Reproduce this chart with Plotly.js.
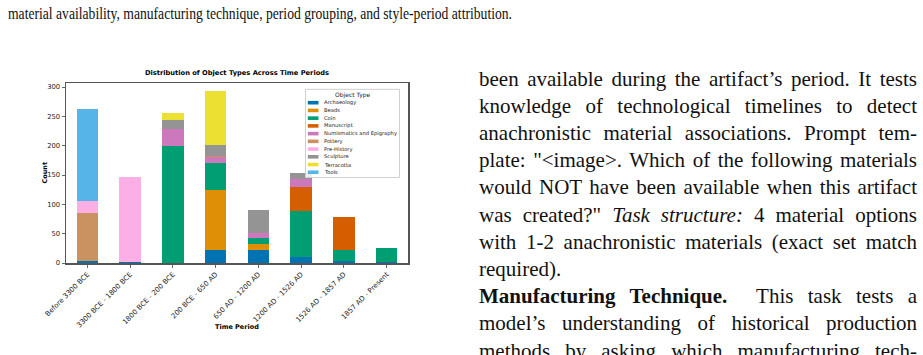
<!DOCTYPE html>
<html><head><meta charset="utf-8">
<script src="https://cdn.plot.ly/plotly-3.0.1.min.js"></script>
<style>
body{margin:0;width:923px;height:355px;overflow:hidden;background:#fff;position:relative;font-family:"Liberation Serif","Times New Roman",serif;color:#111;}
#chart{position:absolute;left:0;top:0;width:460px;height:355px;}
.top{position:absolute;left:8px;top:3px;font-size:17px;line-height:22px;white-space:nowrap;transform-origin:0 50%;}
.col{position:absolute;left:479px;top:65.5px;width:438px;font-size:21px;line-height:27.2px;}
.col div{text-align:justify;text-align-last:justify;white-space:nowrap;}
.col div.l{text-align-last:left;}
</style></head><body>
<div class="top" id="topline">material availability, manufacturing technique, period grouping, and style-period attribution.</div>
<div id="chart"></div>
<div class="col">
<div>been available during the artifact’s period. It tests</div>
<div>knowledge of technological timelines to detect</div>
<div>anachronistic material associations. Prompt tem-</div>
<div>plate: "&lt;image&gt;. Which of the following materials</div>
<div>would NOT have been available when this artifact</div>
<div>was created?" <i>Task structure:</i> 4 material options</div>
<div>with 1-2 anachronistic materials (exact set match</div>
<div class="l">required).</div>
<div><b>Manufacturing Technique.</b> &nbsp;This task tests a</div>
<div>model’s understanding of historical production</div>
<div>methods by asking which manufacturing tech-</div>
</div>
<script>
const categories = ['Before 3300 BCE','3300 BCE - 1800 BCE','1800 BCE - 200 BCE','200 BCE - 650 AD','650 AD - 1200 AD','1200 AD - 1526 AD','1526 AD - 1857 AD','1857 AD - Present'];
const seriesNames = ['Archaeology','Beads','Coin','Manuscript','Numismatics and Epigraphy','Pottery','Pre-History','Sculpture','Terracotta','Tools'];
const archaeology = [4,1,0,23,23,11,3,2];
const beads       = [0,0,0,102,9,0,0,0];
const coin        = [0,0,200,45,10,78,20,23];
const manuscript  = [0,0,0,0,0,41,56,0];
const numismatics = [0,0,29,10,9,14,0,0];
const pottery     = [82,0,0,3,0,0,0,0];
const prehistory  = [20,146,0,0,0,0,0,0];
const sculpture   = [0,0,15,19,39,10,0,0];
const terracotta  = [0,0,11,92,0,0,0,0];
const tools       = [157,0,0,0,0,0,0,0];
const yTicks = [0,50,100,150,200,250,300];

// condensed caption line: fit to the reference width
(function(){
  const t = document.getElementById('topline');
  const w = t.getBoundingClientRect().width;
  t.style.transform = 'scaleX(' + (504 / w) + ')';
})();
// shrink word spacing on any justified line wider than the column
document.querySelectorAll('.col div').forEach(d=>{
  const w = 438;
  if (d.scrollWidth > w) {
    const n = (d.textContent.match(/ /g)||[]).length || 1;
    d.style.wordSpacing = (-(d.scrollWidth - w + 1)/n) + 'px';
  }
});

const seriesValues = [archaeology,beads,coin,manuscript,numismatics,pottery,prehistory,sculpture,terracotta,tools];
const colors = ['#0173B2','#DE8F05','#029E73','#D55E00','#CC78BC','#CA9161','#FBAFE4','#949494','#ECE133','#56B4E9'];

const traces = seriesNames.map((n,i)=>({
  type:'bar', name:n, x:categories, y:seriesValues[i], width:0.5,
  marker:{color:colors[i], line:{width:0}}, showlegend:false, hoverinfo:'x+y+name'
}));

const W=460,H=355, L=66, R=408, T=83, B=263;
const px2x = p => (p-L)/(R-L);
const py2y = p => (B-p)/(B-T);
const font = 'DejaVu Sans';

const shapes = [{type:'rect', xref:'paper', yref:'paper', x0:px2x(305.5), x1:px2x(399.5), y0:py2y(177.5), y1:py2y(89.3),
  line:{color:'#d0d0d0', width:1}, fillcolor:'rgba(255,255,255,0.85)'}];
const annotations = [
  {xref:'paper', yref:'paper', x:px2x(352.5), y:py2y(95), text:'Object Type', showarrow:false,
   xanchor:'center', yanchor:'middle', font:{family:font, size:6, color:'#222'}},
  {xref:'paper', yref:'paper', x:0.5, y:py2y(326.5), text:'<b>Time Period</b>', showarrow:false,
   xanchor:'center', yanchor:'middle', font:{family:font, size:6.5, color:'#000'}},
  {xref:'paper', yref:'paper', x:px2x(44.5), y:py2y(173), text:'<b>Count</b>', showarrow:false, textangle:-90,
   xanchor:'center', yanchor:'middle', font:{family:font, size:6.5, color:'#000'}}
];
seriesNames.forEach((n,i)=>{
  const cy = 102.7 + 7.73*i;
  shapes.push({type:'rect', xref:'paper', yref:'paper', x0:px2x(307.8), x1:px2x(318.5), y0:py2y(cy+1.8), y1:py2y(cy-1.8),
    line:{width:0}, fillcolor:colors[i]});
  annotations.push({xref:'paper', yref:'paper', x:px2x(321.5), y:py2y(cy), text:n, showarrow:false,
    xanchor:'left', yanchor:'middle', font:{family:font, size:5.2, color:'#222'}});
});

const layout = {
  width:W, height:H, margin:{l:L, r:W-R, t:T, b:H-B, pad:0},
  paper_bgcolor:'rgba(0,0,0,0)', plot_bgcolor:'#fff',
  barmode:'stack', bargap:0.5,
  title:{text:'<b>Distribution of Object Types Across Time Periods</b>', x:0.5, xref:'paper', xanchor:'center',
    y:1-73/H, yref:'container', yanchor:'middle', font:{family:font, size:6.7, color:'#000'}},
  xaxis:{type:'category', range:[-0.5,7.5], tickangle:-45, ticks:'outside', ticklen:3, tickwidth:0.8, tickcolor:'#444',
    tickfont:{family:font, size:7, color:'#222'}, showline:true, linecolor:'#555', linewidth:1.5, mirror:true,
    showgrid:false, zeroline:false},
  yaxis:{range:[0,307], tickvals:yTicks, ticks:'outside', ticklen:3, tickwidth:0.8, tickcolor:'#444',
    tickfont:{family:font, size:6.8, color:'#222'}, showline:true, linecolor:'#555', linewidth:1.5, mirror:true,
    showgrid:false, zeroline:false},
  shapes:shapes, annotations:annotations, showlegend:false
};
Plotly.newPlot('chart', traces, layout, {displayModeBar:false, staticPlot:true});
</script>
</body></html>
